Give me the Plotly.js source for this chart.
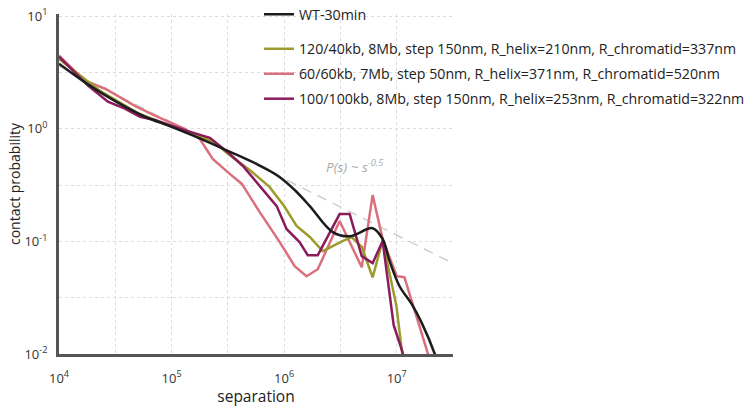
<!DOCTYPE html>
<html>
<head>
<meta charset="utf-8">
<script src="https://cdn.plot.ly/plotly-3.0.1.min.js"></script>
<style>html,body{margin:0;padding:0;background:#fff;}#chart{width:745px;height:407px;}</style>
</head>
<body>
<div id="chart"></div>
<script>
// ---- data ----
const seriesNames = [
  "WT-30min",
  "120/40kb, 8Mb, step 150nm, R_helix=210nm, R_chromatid=337nm",
  "60/60kb, 7Mb, step 50nm, R_helix=371nm, R_chromatid=520nm",
  "100/100kb, 8Mb, step 150nm, R_helix=253nm, R_chromatid=322nm"
];

const wtSep  = [1e4, 1.78e4, 3.16e4, 5.62e4, 1e5, 1.78e5, 3.16e5, 5.62e5, 9.1e5, 1.26e6, 1.69e6, 2.7e6, 3.82e6, 6.11e6, 7.5e6, 8.65e6, 1.06e7, 1.36e7, 1.66e7, 2.17e7, 2.5e7];
const wtProb = [3.79, 2.51, 1.76, 1.30, 1.04, 0.822, 0.637, 0.49, 0.374, 0.282, 0.206, 0.121, 0.111, 0.131, 0.105, 0.0668, 0.040, 0.0277, 0.0191, 0.0101, 0.0063];

const m1Sep  = [1e4, 2.24e4, 5.01e4, 1e5, 2.4e5, 3.16e5, 5.01e5, 7.41e5, 1e6, 1.29e6, 1.7e6, 2.2e6, 3.3e6, 3.98e6, 4.9e6, 6.11e6, 7.5e6, 9.93e6, 1.12e7, 1.26e7];
const m1Prob = [4.17, 2.22, 1.38, 1.05, 0.766, 0.60, 0.427, 0.305, 0.206, 0.137, 0.109, 0.082, 0.1007, 0.109, 0.0891, 0.0479, 0.102, 0.0269, 0.010, 0.004];

const m2Sep  = [1e4, 1.7e4, 2.57e4, 4.72e4, 7.11e4, 1.31e5, 1.78e5, 2.32e5, 3.29e5, 4.21e5, 6.07e5, 9.14e5, 1.24e6, 1.58e6, 1.99e6, 3.11e6, 4.89e6, 6.11e6, 7.5e6, 1e7, 1.17e7, 1.88e7, 2.1e7];
const m2Prob = [4.47, 2.67, 2.27, 1.60, 1.31, 1.0, 0.815, 0.541, 0.398, 0.324, 0.182, 0.0986, 0.0603, 0.0491, 0.0566, 0.152, 0.059, 0.258, 0.105, 0.0491, 0.0481, 0.0103, 0.005];

const m3Sep  = [1e4, 1.81e4, 2.72e4, 3.85e4, 5.24e4, 7.11e4, 1.37e5, 2.19e5, 3.29e5, 4.3e5, 6.08e5, 8.59e5, 1.05e6, 1.37e6, 1.62e6, 1.99e6, 3.11e6, 3.82e6, 4.89e6, 6.11e6, 7.5e6, 9.4e6, 1.13e7, 1.2e7];
const m3Prob = [4.38, 2.42, 1.74, 1.51, 1.28, 1.20, 0.959, 0.832, 0.598, 0.468, 0.31, 0.206, 0.129, 0.0986, 0.0755, 0.0755, 0.175, 0.175, 0.074, 0.0641, 0.1007, 0.018, 0.0103, 0.0063];

const powerLawSep  = [1e4, 3.16e7];
const powerLawProb = [3.6, 0.064];
const powerLawLabel = "<i>P(s) ~ s<sup>-0.5</sup></i>";

const xTickVals = [1e4, 1e5, 1e6, 1e7];
const xTickText = ["10<sup>4</sup>", "10<sup>5</sup>", "10<sup>6</sup>", "10<sup>7</sup>"];
const xHalfDecades = [31623, 316228, 3162278, 31622777];
const yTickVals = [0.01, 0.1, 1, 10];
const yTickText = ["10<sup>-2</sup>", "10<sup>-1</sup>", "10<sup>0</sup>", "10<sup>1</sup>"];
const yHalfDecades = [0.031623, 0.31623, 3.1623];

// ---- styles ----
const colors = ["#1c1c1c", "#9b9b2e", "#d9707c", "#8a1c5c"];
const FONT = "'Open Sans', sans-serif";
const GRID = {showgrid: true, gridcolor: "#dcdcdc", griddash: "3px,3px", gridwidth: 1};

const traces = [
  {x: powerLawSep, y: powerLawProb, mode: "lines", showlegend: false, hoverinfo: "skip",
   line: {color: "#cfcfcf", width: 1.5, dash: "10px,7px"}},
  {x: m2Sep, y: m2Prob, name: seriesNames[2], mode: "lines", legend: "legend2", legendgroup: "b", legendrank: 2,
   line: {color: colors[2], width: 2.5}},
  {x: m1Sep, y: m1Prob, name: seriesNames[1], mode: "lines", legend: "legend2", legendgroup: "a", legendrank: 1,
   line: {color: colors[1], width: 2.5}},
  {x: m3Sep, y: m3Prob, name: seriesNames[3], mode: "lines", legend: "legend2", legendgroup: "c", legendrank: 3,
   line: {color: colors[3], width: 2.5}},
  {x: wtSep, y: wtProb, name: seriesNames[0], mode: "lines", legend: "legend",
   line: {color: colors[0], width: 2.5, shape: "spline", smoothing: 1}}
];

const legendFont = {family: FONT, size: 14.2, color: "#222"};

const layout = {
  width: 745, height: 407,
  margin: {l: 59, r: 292, t: 14, b: 53, autoexpand: false},
  paper_bgcolor: "#fff", plot_bgcolor: "#fff",
  font: {family: FONT, color: "#222"},
  xaxis: Object.assign({
    type: "log", range: [4, 7.5], autorange: false,
    tickmode: "array", tickvals: xTickVals, ticktext: xTickText,
    minor: Object.assign({tickmode: "array", tickvals: xHalfDecades, ticks: ""}, GRID),
    showline: true, linecolor: "#555", linewidth: 3, zeroline: false,
    ticks: "", ticklabelstandoff: 10,
    tickfont: {family: FONT, size: 13, color: "#333"},
    title: {text: "separation", font: {family: FONT, size: 15.5, color: "#222"}, standoff: 7},
    automargin: false
  }, GRID),
  yaxis: Object.assign({
    type: "log", range: [-2, 1.02], autorange: false,
    tickmode: "array", tickvals: yTickVals, ticktext: yTickText,
    minor: Object.assign({tickmode: "array", tickvals: yHalfDecades, ticks: ""}, GRID),
    showline: true, linecolor: "#555", linewidth: 3, zeroline: false,
    ticks: "", ticklabelstandoff: 6,
    tickfont: {family: FONT, size: 13, color: "#333"},
    title: {text: "contact probability", font: {family: FONT, size: 14, color: "#222"}, standoff: 1},
    automargin: false
  }, GRID),
  legend: {
    x: 0.5076, xanchor: "left", y: 1.0456, yanchor: "top",
    bgcolor: "rgba(0,0,0,0)", borderwidth: 0, font: legendFont
  },
  legend2: {
    x: 0.5076, xanchor: "left", y: 0.944, yanchor: "top",
    bgcolor: "rgba(0,0,0,0)", borderwidth: 0, font: legendFont,
    traceorder: "grouped", tracegroupgap: 3.5
  },
  annotations: [{
    x: Math.log10(4.3e6), y: Math.log10(0.47), xref: "x", yref: "y",
    text: powerLawLabel, showarrow: false,
    font: {family: FONT, size: 13.5, color: "#aaaaaa"}
  }],
  showlegend: true
};

Plotly.newPlot("chart", traces, layout, {displayModeBar: false, staticPlot: true});
</script>
</body>
</html>
